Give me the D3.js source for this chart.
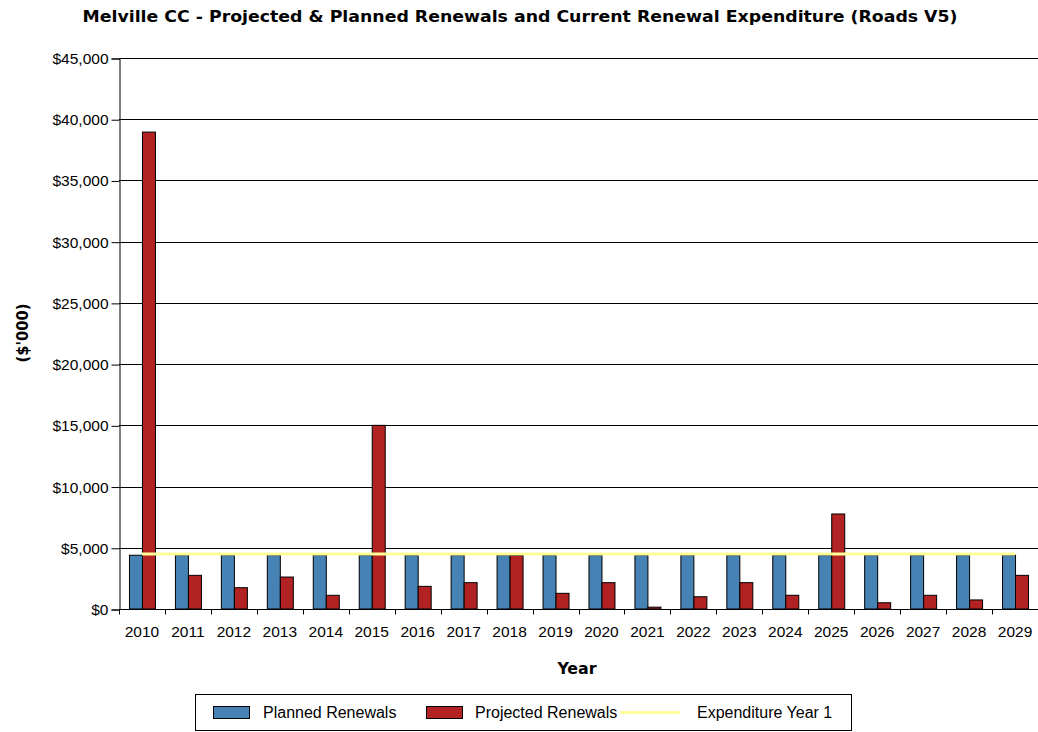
<!DOCTYPE html>
<html>
<head>
<meta charset="utf-8">
<script src="https://cdn.jsdelivr.net/npm/d3@7"></script>
<style>
  html, body { margin: 0; padding: 0; background: #fff; }
  svg { display: block; }
</style>
</head>
<body>
<svg id="chart" width="1038" height="732"></svg>
<script>
// Renewal figures, $'000 per year
const years = ["2010","2011","2012","2013","2014","2015","2016","2017","2018","2019",
               "2020","2021","2022","2023","2024","2025","2026","2027","2028","2029"];
const planned = [4390,4390,4390,4390,4390,4390,4390,4390,4390,4390,
                 4390,4390,4390,4390,4390,4390,4390,4390,4390,4390];
const projected = [38950,2750,1740,2610,1120,15000,1850,2150,4370,1280,
                   2150,150,1000,2150,1120,7760,510,1120,740,2750];
const expenditure = [4500,4500,4500,4500,4500,4500,4500,4500,4500,4500,
                     4500,4500,4500,4500,4500,4500,4500,4500,4500,4500];
const yTicks = [0,5000,10000,15000,20000,25000,30000,35000,40000,45000];
const seriesNames = ["Planned Renewals","Projected Renewals","Expenditure Year 1"];

const colors = { planned: "#4682b4", projected: "#b22222", line: "#ffff99" };
const font = "'Liberation Sans', Arial, sans-serif";
const boldFont = "'DejaVu Sans Condensed', 'DejaVu Sans', Verdana, sans-serif";

const svg = d3.select("#chart");
const m = { left: 119, right: 1038, top: 58, bottom: 609 };

const x = d3.scaleBand().domain(years).range([m.left, m.right]).paddingInner(0).paddingOuter(0);
const y = d3.scaleLinear().domain([0, 45000]).range([m.bottom, m.top]);
const barW = 13;

// Title
svg.append("text")
  .attr("x", 520).attr("y", 22)
  .attr("text-anchor", "middle")
  .attr("font-family", boldFont)
  .attr("font-weight", "bold")
  .attr("font-size", 15)
  .attr("textLength", 875).attr("lengthAdjust", "spacingAndGlyphs")
  .text("Melville CC - Projected & Planned Renewals and Current Renewal Expenditure (Roads V5)");

// Horizontal gridlines
svg.append("g").selectAll("line").data(yTicks.filter(d => d > 0)).join("line")
  .attr("x1", m.left).attr("x2", m.right)
  .attr("y1", d => Math.round(y(d)) + 0.5).attr("y2", d => Math.round(y(d)) + 0.5)
  .attr("stroke", "#000").attr("stroke-width", 1);

// Y axis
const yAxis = d3.axisLeft(y).tickValues(yTicks).tickFormat(d3.format("$,")).tickSize(8).tickPadding(3);
const gy = svg.append("g").attr("transform", `translate(${m.left + 0.5},0.5)`).call(yAxis);
gy.select(".domain").attr("stroke", "#000");
gy.selectAll(".tick line").attr("stroke", "#000");
gy.selectAll("text").attr("font-family", font).attr("font-size", 15.5).attr("fill", "#000");

// Bars
const bars = svg.append("g");
bars.selectAll("rect.planned").data(years).join("rect")
  .attr("class", "planned")
  .attr("x", d => x(d) + x.bandwidth() / 2 - barW + 0.5)
  .attr("y", (d, i) => y(planned[i]))
  .attr("width", barW)
  .attr("height", (d, i) => y(0) - y(planned[i]))
  .attr("fill", colors.planned).attr("stroke", "#000").attr("stroke-width", 1);
bars.selectAll("rect.projected").data(years).join("rect")
  .attr("class", "projected")
  .attr("x", d => x(d) + x.bandwidth() / 2 + 0.5)
  .attr("y", (d, i) => y(projected[i]))
  .attr("width", barW)
  .attr("height", (d, i) => y(0) - y(projected[i]))
  .attr("fill", colors.projected).attr("stroke", "#000").attr("stroke-width", 1);

// Expenditure line
const line = d3.line().x((d, i) => x(years[i]) + x.bandwidth() / 2).y(d => y(d));
svg.append("path").datum(expenditure)
  .attr("d", line).attr("fill", "none")
  .attr("stroke", colors.line).attr("stroke-width", 3);

// X axis
const gx = svg.append("g").attr("transform", `translate(0,${m.bottom + 0.5})`);
gx.append("line").attr("x1", m.left).attr("x2", m.right).attr("stroke", "#000");
gx.selectAll("line.tk").data(years.concat(["end"])).join("line")
  .attr("class", "tk")
  .attr("x1", (d, i) => Math.round(m.left + i * x.bandwidth()) + 0.5)
  .attr("x2", (d, i) => Math.round(m.left + i * x.bandwidth()) + 0.5)
  .attr("y1", 0).attr("y2", 5).attr("stroke", "#000");
gx.selectAll("text").data(years).join("text")
  .attr("x", d => x(d) + x.bandwidth() / 2)
  .attr("y", 27)
  .attr("text-anchor", "middle")
  .attr("font-family", font).attr("font-size", 15.5)
  .text(d => d);

// Axis titles
svg.append("text")
  .attr("x", 577).attr("y", 674)
  .attr("text-anchor", "middle")
  .attr("font-family", boldFont).attr("font-weight", "bold").attr("font-size", 15)
  .attr("textLength", 39).attr("lengthAdjust", "spacingAndGlyphs")
  .text("Year");
svg.append("text")
  .attr("transform", "translate(28,333) rotate(-90)")
  .attr("text-anchor", "middle")
  .attr("font-family", boldFont).attr("font-weight", "bold").attr("font-size", 15)
  .attr("textLength", 59).attr("lengthAdjust", "spacingAndGlyphs")
  .text("($'000)");

// Legend
const lg = svg.append("g");
lg.append("rect").attr("x", 195.5).attr("y", 694.5).attr("width", 656).attr("height", 36)
  .attr("fill", "#fff").attr("stroke", "#000");
lg.append("rect").attr("x", 213.5).attr("y", 706.5).attr("width", 36).attr("height", 12)
  .attr("fill", colors.planned).attr("stroke", "#000");
lg.append("rect").attr("x", 426.5).attr("y", 706.5).attr("width", 36).attr("height", 12)
  .attr("fill", colors.projected).attr("stroke", "#000");
lg.append("line").attr("x1", 620).attr("x2", 680).attr("y1", 712.5).attr("y2", 712.5)
  .attr("stroke", colors.line).attr("stroke-width", 3);
const lx = [263, 475, 697];
lg.selectAll("text").data(seriesNames).join("text")
  .attr("x", (d, i) => lx[i]).attr("y", 718)
  .attr("font-family", font).attr("font-size", 16)
  .text(d => d);
</script>
</body>
</html>
